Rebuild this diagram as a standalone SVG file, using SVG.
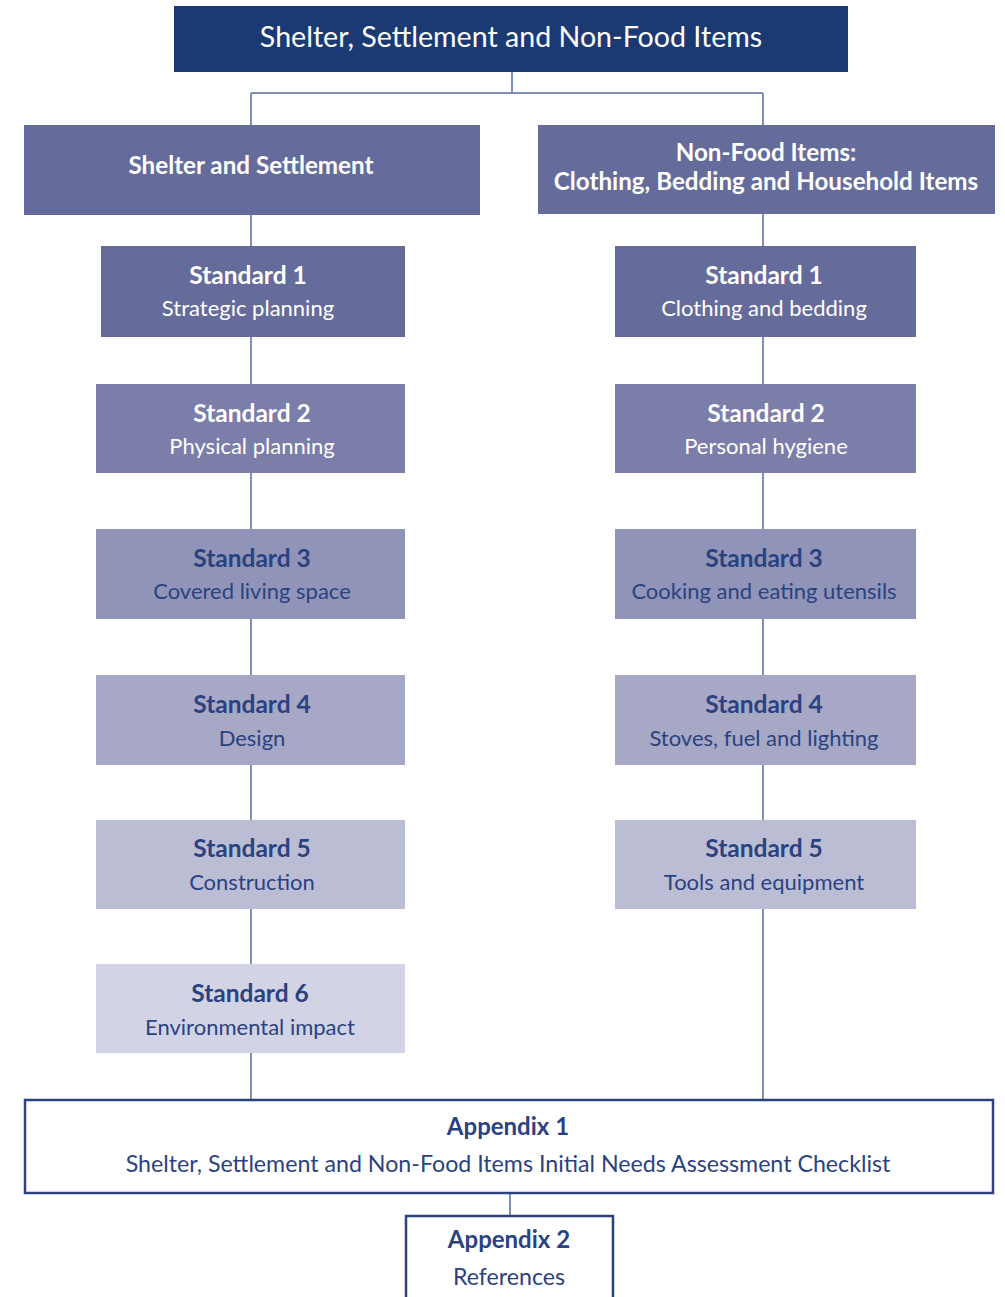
<svg xmlns="http://www.w3.org/2000/svg" width="1005" height="1297" viewBox="0 0 1005 1297">
<style>
text{font-family:Lato,"Open Sans","Liberation Sans",sans-serif;text-anchor:middle}
.w{fill:#ffffff}
.d{fill:#2b4280}
.t{font-size:24.5px;font-weight:bold}
.s{font-size:22px}
.h{font-size:24.2px;font-weight:bold}
.a{font-size:23.2px}
.con{stroke:#7f90b4;stroke-width:2;fill:none}
</style>
<rect width="1005" height="1297" fill="#ffffff"/>
<g id="connectors">
<path class="con" d="M512 72V93M251 93H763M251 93V125M763 93V125"/>
<path class="con" d="M251 215V1100M763 214V1100M510 1193V1216"/>
</g>
<g id="top"><rect x="174" y="6" width="674" height="66" fill="#1b3a73"/><text x="511" y="47" class="w" style="font-size:28.6px">Shelter, Settlement and Non-Food Items</text></g>
<g id="left-header"><rect x="24" y="125" width="456" height="90" fill="#656c9b"/><text x="251" y="174" class="w h">Shelter and Settlement</text></g>
<g id="right-header"><rect x="538" y="125" width="457" height="89" fill="#656c9b"/><text x="766" y="161" class="w h">Non-Food Items:</text><text x="766" y="190" class="w h">Clothing, Bedding and Household Items</text></g>
<g id="ls1"><rect x="101" y="246" width="304" height="91" fill="#656c9b"/><text x="248" y="284" class="w t">Standard 1</text><text x="248" y="316" class="w s">Strategic planning</text></g>
<g id="ls2"><rect x="96" y="384" width="309" height="89" fill="#7a7ea9"/><text x="252" y="422" class="w t">Standard 2</text><text x="252" y="454" class="w s">Physical planning</text></g>
<g id="ls3"><rect x="96" y="529" width="309" height="90" fill="#9094b8"/><text x="252" y="567" class="d t">Standard 3</text><text x="252" y="599" class="d s">Covered living space</text></g>
<g id="ls4"><rect x="96" y="675" width="309" height="90" fill="#a6a8c6"/><text x="252" y="713" class="d t">Standard 4</text><text x="252" y="746" class="d s">Design</text></g>
<g id="ls5"><rect x="96" y="820" width="309" height="89" fill="#bbbdd5"/><text x="252" y="857" class="d t">Standard 5</text><text x="252" y="890" class="d s">Construction</text></g>
<g id="ls6"><rect x="96" y="964" width="309" height="89" fill="#d2d3e5"/><text x="250" y="1002" class="d t">Standard 6</text><text x="250" y="1035" class="d s">Environmental impact</text></g>
<g id="rs1"><rect x="615" y="246" width="301" height="91" fill="#656c9b"/><text x="764" y="284" class="w t">Standard 1</text><text x="764" y="316" class="w s">Clothing and bedding</text></g>
<g id="rs2"><rect x="615" y="384" width="301" height="89" fill="#7a7ea9"/><text x="766" y="422" class="w t">Standard 2</text><text x="766" y="454" class="w s">Personal hygiene</text></g>
<g id="rs3"><rect x="615" y="529" width="301" height="90" fill="#9094b8"/><text x="764" y="567" class="d t">Standard 3</text><text x="764" y="599" class="d s">Cooking and eating utensils</text></g>
<g id="rs4"><rect x="615" y="675" width="301" height="90" fill="#a6a8c6"/><text x="764" y="713" class="d t">Standard 4</text><text x="764" y="746" class="d s">Stoves, fuel and lighting</text></g>
<g id="rs5"><rect x="615" y="820" width="301" height="89" fill="#bbbdd5"/><text x="764" y="857" class="d t">Standard 5</text><text x="764" y="890" class="d s">Tools and equipment</text></g>
<g id="app1"><rect x="25" y="1100" width="968" height="93" fill="#ffffff" stroke="#2b4280" stroke-width="2.5"/><text x="508" y="1135" class="d t" style="font-size:24px">Appendix 1</text><text x="508" y="1172" class="d a">Shelter, Settlement and Non-Food Items Initial Needs Assessment Checklist</text></g>
<g id="app2"><rect x="406" y="1216" width="207" height="90" fill="#ffffff" stroke="#2b4280" stroke-width="2.5"/><text x="509" y="1248" class="d t" style="font-size:24px">Appendix 2</text><text x="509" y="1285" class="d a">References</text></g>
</svg>
